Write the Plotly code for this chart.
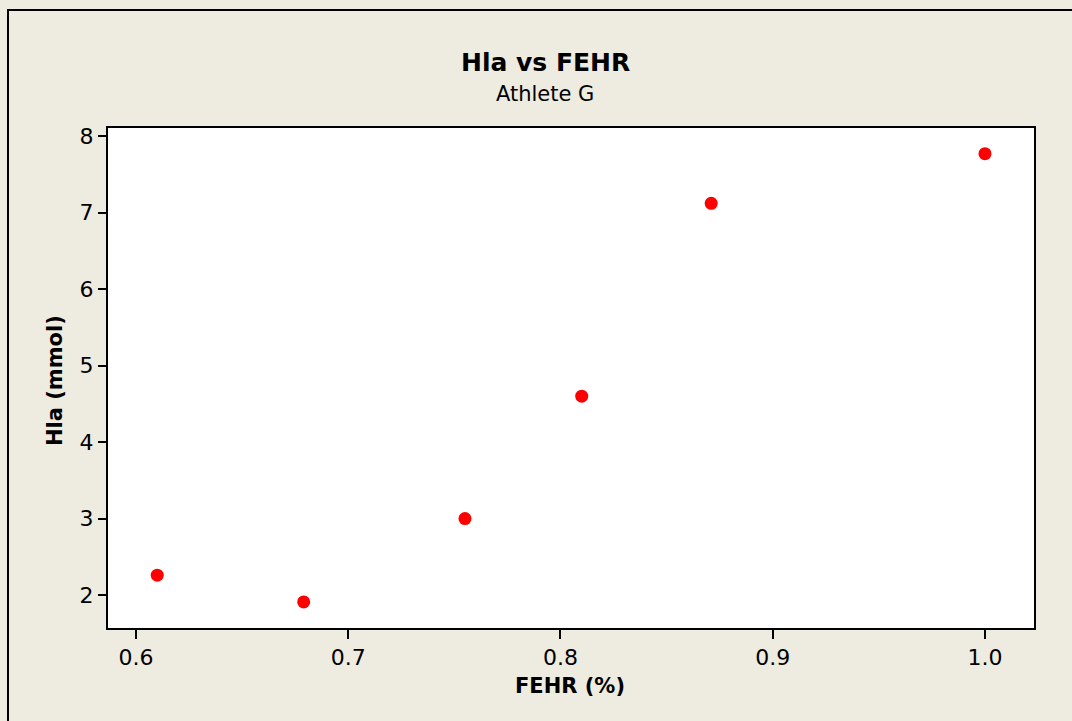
import plotly.graph_objects as go

fehr = [0.610, 0.679, 0.755, 0.810, 0.871, 1.000]
hla = [2.26, 1.91, 3.00, 4.60, 7.12, 7.77]
x_ticks = [0.6, 0.7, 0.8, 0.9, 1.0]
x_tick_labels = ["0.6", "0.7", "0.8", "0.9", "1.0"]
y_ticks = [2, 3, 4, 5, 6, 7, 8]

W, H = 1072, 721
L, R, T, B = 108, 1034, 128, 628
pw, ph = R - L, B - T

def px(x):
    return (x - L) / pw

def py(y):
    return (B - y) / ph

bg = "#EEEBE1"
font = "DejaVu Sans"

fig = go.Figure()
fig.add_trace(go.Scatter(
    x=fehr, y=hla, mode="markers",
    marker=dict(color="#FF0000", size=13, line=dict(width=0)),
    showlegend=False,
))

fig.update_layout(
    width=W, height=H,
    margin=dict(l=L, r=W - R, t=T, b=H - B, pad=0),
    paper_bgcolor=bg, plot_bgcolor="white",
    font=dict(family=font, color="black", size=21),
    xaxis=dict(range=[0.5868, 1.0231], tickvals=x_ticks, ticktext=x_tick_labels,
               ticks="outside", ticklen=9, tickwidth=1.5, tickcolor="black",
               showgrid=False, zeroline=False, showline=True, linecolor="black",
               linewidth=2, mirror=True, tickfont=dict(size=22)),
    yaxis=dict(range=[1.569, 8.105], tickvals=y_ticks,
               ticks="outside", ticklen=8, tickwidth=1.5, tickcolor="black",
               showgrid=False, zeroline=False, showline=True, linecolor="black",
               linewidth=2, mirror=True, tickfont=dict(size=22)),
    annotations=[
        dict(text="<b>Hla vs FEHR</b>", x=px(545), y=py(62), xref="paper", yref="paper",
             showarrow=False, font=dict(size=25), xanchor="center", yanchor="middle"),
        dict(text="Athlete G", x=px(545), y=py(94), xref="paper", yref="paper",
             showarrow=False, font=dict(size=21), xanchor="center", yanchor="middle"),
        dict(text="<b>FEHR (%)</b>", x=px(570), y=py(686), xref="paper", yref="paper",
             showarrow=False, font=dict(size=21), xanchor="center", yanchor="middle"),
        dict(text="<b>Hla (mmol)</b>", x=px(55), y=py(381), xref="paper", yref="paper",
             showarrow=False, font=dict(size=21), textangle=-90,
             xanchor="center", yanchor="middle"),
    ],
    shapes=[
        dict(type="line", xref="paper", yref="paper", x0=px(7), x1=px(1080),
             y0=py(10), y1=py(10), line=dict(color="black", width=2)),
        dict(type="line", xref="paper", yref="paper", x0=px(8), x1=px(8),
             y0=py(9), y1=py(730), line=dict(color="black", width=2)),
    ],
)

fig.write_html(
    "out.html",
    config={"displayModeBar": False},
    post_script="document.body.style.margin='0';document.body.style.overflow='hidden';",
)
